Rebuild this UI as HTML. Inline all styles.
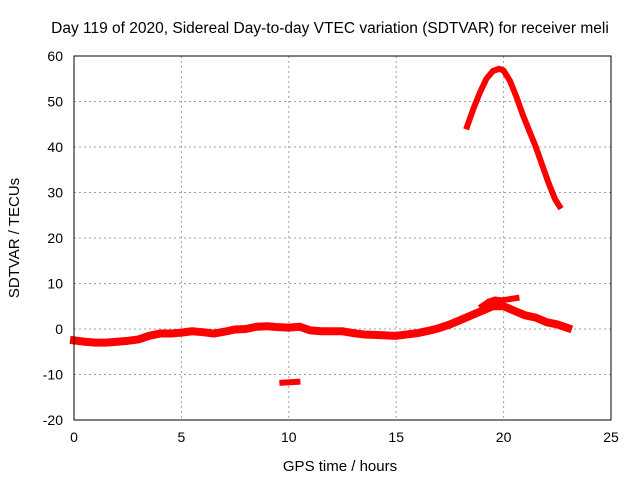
<!DOCTYPE html>
<html><head><meta charset="utf-8"><style>
body{margin:0;background:#fff;}
svg text{font-family:"Liberation Sans",sans-serif;font-size:14px;fill:#000;}
</style></head><body>
<svg id="chart" width="640" height="480" xmlns="http://www.w3.org/2000/svg">
<text x="330" y="33" text-anchor="middle" style="font-size:15.5px">Day 119 of 2020, Sidereal Day-to-day VTEC variation (SDTVAR) for receiver meli</text>
<g id="grid"></g>
<g id="ticks"></g>
<g id="marks"></g>
<rect x="74" y="56" width="537" height="364" fill="none" stroke="#000" stroke-width="1"/>
<text x="340" y="471" text-anchor="middle" style="font-size:15px">GPS time / hours</text>
<text transform="translate(19,238) rotate(-90)" text-anchor="middle" style="font-size:15px">SDTVAR / TECUs</text>
</svg>
<script>
const xTicks=[0,5,10,15,20,25];
const yTicks=[-20,-10,0,10,20,30,40,50,60];
const mainHours=[0,0.5,1,1.5,2,2.5,3,3.5,4,4.5,5,5.5,6,6.5,7,7.5,8,8.5,9,9.5,10,10.5,11,11.5,12,12.5,13,13.5,14,14.5,15,15.5,16,16.5,17,17.5,18,18.5,19,19.5,20,20.5,21,21.5,22,22.5,23];
const mainValues=[-2.5,-2.8,-3,-3,-2.8,-2.6,-2.3,-1.5,-1,-1,-0.8,-0.5,-0.7,-1,-0.6,-0.1,0,0.5,0.6,0.4,0.3,0.5,-0.3,-0.5,-0.5,-0.5,-0.9,-1.2,-1.3,-1.4,-1.5,-1.2,-0.9,-0.4,0.2,1,2,3,4,5,5,4,3,2.5,1.5,1,0.2];
const upperHours=[19,19.3,19.6,19.9,20.2,20.6];
const upperValues=[5,6,6.5,6.3,6.5,6.8];
const peakHours=[18.3,18.6,18.9,19.2,19.5,19.8,20.0,20.3,20.6,20.9,21.2,21.5,21.8,22.1,22.4,22.6];
const peakValues=[44.5,48.5,52,55,56.7,57.2,56.8,54.5,51,47,43.5,40,36,32,28.5,27];
const dipHours=[9.7,10.4];
const dipValues=[-11.8,-11.6];
const X=h=>74+h*(537/25);
const Y=v=>420-(v+20)*(364/80);
const NS="http://www.w3.org/2000/svg";
const grid=document.getElementById('grid'),ticks=document.getElementById('ticks'),marks=document.getElementById('marks');
function mk(tag,attrs,parent){const e=document.createElementNS(NS,tag);for(const k in attrs)e.setAttribute(k,attrs[k]);parent.appendChild(e);return e;}
xTicks.forEach(t=>{
 if(t>0&&t<25){const l=mk('line',{x1:X(t),x2:X(t),y1:56,y2:420,stroke:'#a0a0a0','stroke-dasharray':'2,3'},grid);
 }
 const tx=mk('text',{x:X(t),y:442,'text-anchor':'middle'},ticks);tx.textContent=t;
 
});
yTicks.forEach(t=>{
 if(t>-20&&t<60){const l=mk('line',{x1:74,x2:611,y1:Y(t),y2:Y(t),stroke:'#a0a0a0','stroke-dasharray':'2,3'},grid);
 }
 const tx=mk('text',{x:63,y:Y(t)+5,'text-anchor':'end'},ticks);tx.textContent=t;
 
});
function series(hs,vs,w,name){
 const p=mk('polyline',{points:hs.map((h,i)=>X(h)+','+Y(vs[i])).join(' '),fill:'none',stroke:'#ff0000','stroke-width':w,'stroke-linejoin':'round','stroke-linecap':'square'},marks);
 
}
series(mainHours,mainValues,8,'main-trace');
series(upperHours,upperValues,6,'upper-branch');
series(peakHours,peakValues,6,'peak-arc');
series(dipHours,dipValues,6,'dip-segment');
</script>
</body></html>
